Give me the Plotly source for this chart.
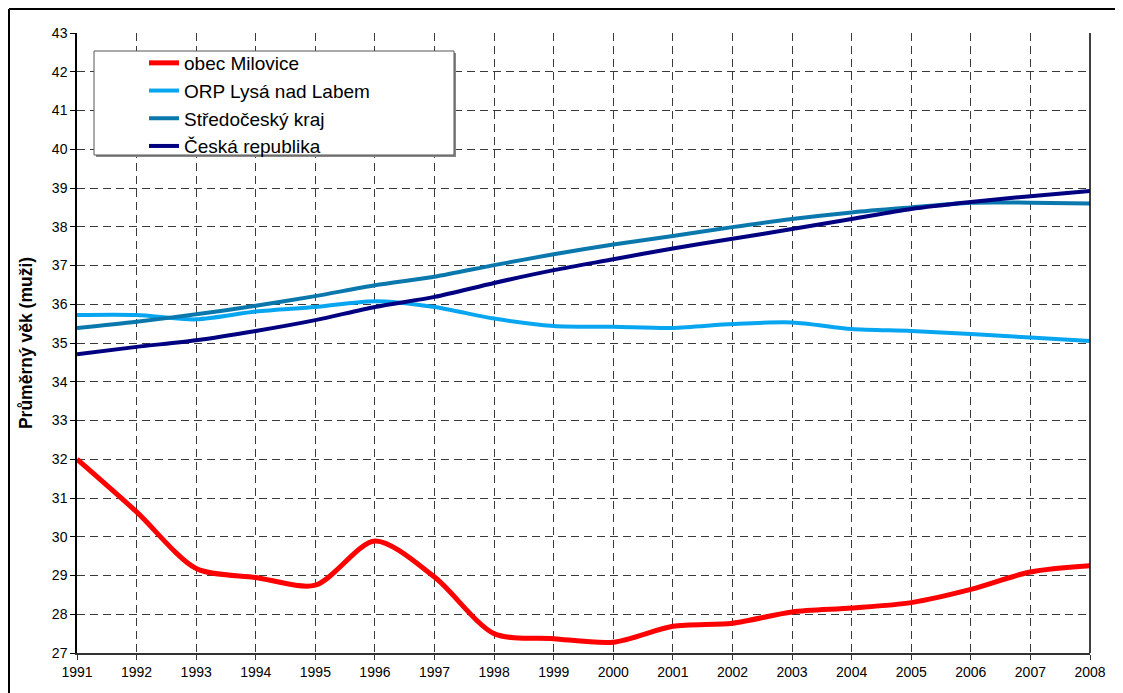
import plotly.graph_objects as go

years = list(range(1991, 2009))

milovice = [32.0, 30.64, 29.18, 28.95, 28.75, 29.89, 28.96, 27.50, 27.37,
            27.28, 27.69, 27.77, 28.06, 28.16, 28.30, 28.64, 29.09, 29.25]
orp_lysa = [35.72, 35.72, 35.61, 35.81, 35.93, 36.08, 35.93, 35.63, 35.44,
            35.42, 35.39, 35.49, 35.53, 35.36, 35.31, 35.23, 35.14, 35.05]
stredocesky = [35.39, 35.55, 35.74, 35.96, 36.21, 36.49, 36.71, 37.01, 37.29,
               37.54, 37.76, 37.99, 38.20, 38.37, 38.50, 38.62, 38.62, 38.60]
cr = [34.71, 34.90, 35.07, 35.31, 35.59, 35.93, 36.19, 36.55, 36.88,
      37.16, 37.44, 37.69, 37.94, 38.20, 38.46, 38.64, 38.79, 38.92]

series = [
    ("obec Milovice", milovice, "#ff0000", 5),
    ("ORP Lysá nad Labem", orp_lysa, "#08a6f0", 4),
    ("Středočeský kraj", stredocesky, "#0a78ac", 4),
    ("Česká republika", cr, "#000080", 4),
]

fig = go.Figure()
for name, vals, color, w in series:
    fig.add_trace(go.Scatter(
        x=years, y=vals, name=name, mode="lines",
        line=dict(color=color, width=w, shape="spline", smoothing=0.8),
    ))

# page body has an 8px margin, so the figure starts at (8, 8) on screen
# plot area on screen: x 77..1090, y 33..653
W, H = 1115, 685
L, R, T, B = 69, 33, 25, 40
pw, ph = W - L - R, H - T - B


def px(sx):
    return (sx - 8 - L) / pw


def py(sy):
    return (H - B - (sy - 8)) / ph


grid = dict(showgrid=True, gridcolor="#3a3a3a", griddash="8px,5px", gridwidth=1)

fig.update_layout(
    width=W, height=H,
    margin=dict(l=L, r=R, t=T, b=B, autoexpand=False),
    paper_bgcolor="white", plot_bgcolor="white",
    font=dict(family="Liberation Sans, Arial, sans-serif", size=14, color="black"),
    showlegend=True,
    legend=dict(
        x=px(144), y=py(44), xanchor="left", yanchor="top",
        bgcolor="rgba(0,0,0,0)", borderwidth=0,
        font=dict(size=19, color="black"),
        traceorder="normal",
    ),
    xaxis=dict(
        range=[1991, 2008], tickmode="linear", tick0=1991, dtick=1,
        showline=True, linecolor="#333", linewidth=2,
        ticks="outside", ticklen=5, tickcolor="#333", automargin=False,
        zeroline=False, **grid,
    ),
    yaxis=dict(
        range=[27, 43], tickmode="linear", tick0=27, dtick=1,
        showline=True, linecolor="black", linewidth=1.5,
        ticks="outside", ticklen=5, tickcolor="black", automargin=False,
        zeroline=False, **grid,
        title=dict(text="<b>Průměrný věk (muži)</b>", font=dict(size=17.5), standoff=15),
    ),
    shapes=[
        # right edge of plot area
        dict(type="line", xref="paper", yref="paper", x0=1, x1=1, y0=0, y1=1,
             line=dict(color="black", width=1.5)),
        # outer frame (top and left edges)
        dict(type="line", xref="paper", yref="paper", x0=px(9), x1=px(1130),
             y0=py(9), y1=py(9), line=dict(color="black", width=2)),
        dict(type="line", xref="paper", yref="paper", x0=px(9), x1=px(9),
             y0=py(9), y1=py(700), line=dict(color="black", width=2)),
        # legend box shadow + box
        dict(type="rect", xref="paper", yref="paper", x0=px(96), x1=px(456),
             y0=py(157), y1=py(53), fillcolor="#888", line=dict(width=0),
             layer="above"),
        dict(type="rect", xref="paper", yref="paper", x0=px(94), x1=px(454),
             y0=py(155), y1=py(51), fillcolor="white",
             line=dict(color="#555", width=1), layer="above"),
    ],
)

fig.write_html("out.html")
